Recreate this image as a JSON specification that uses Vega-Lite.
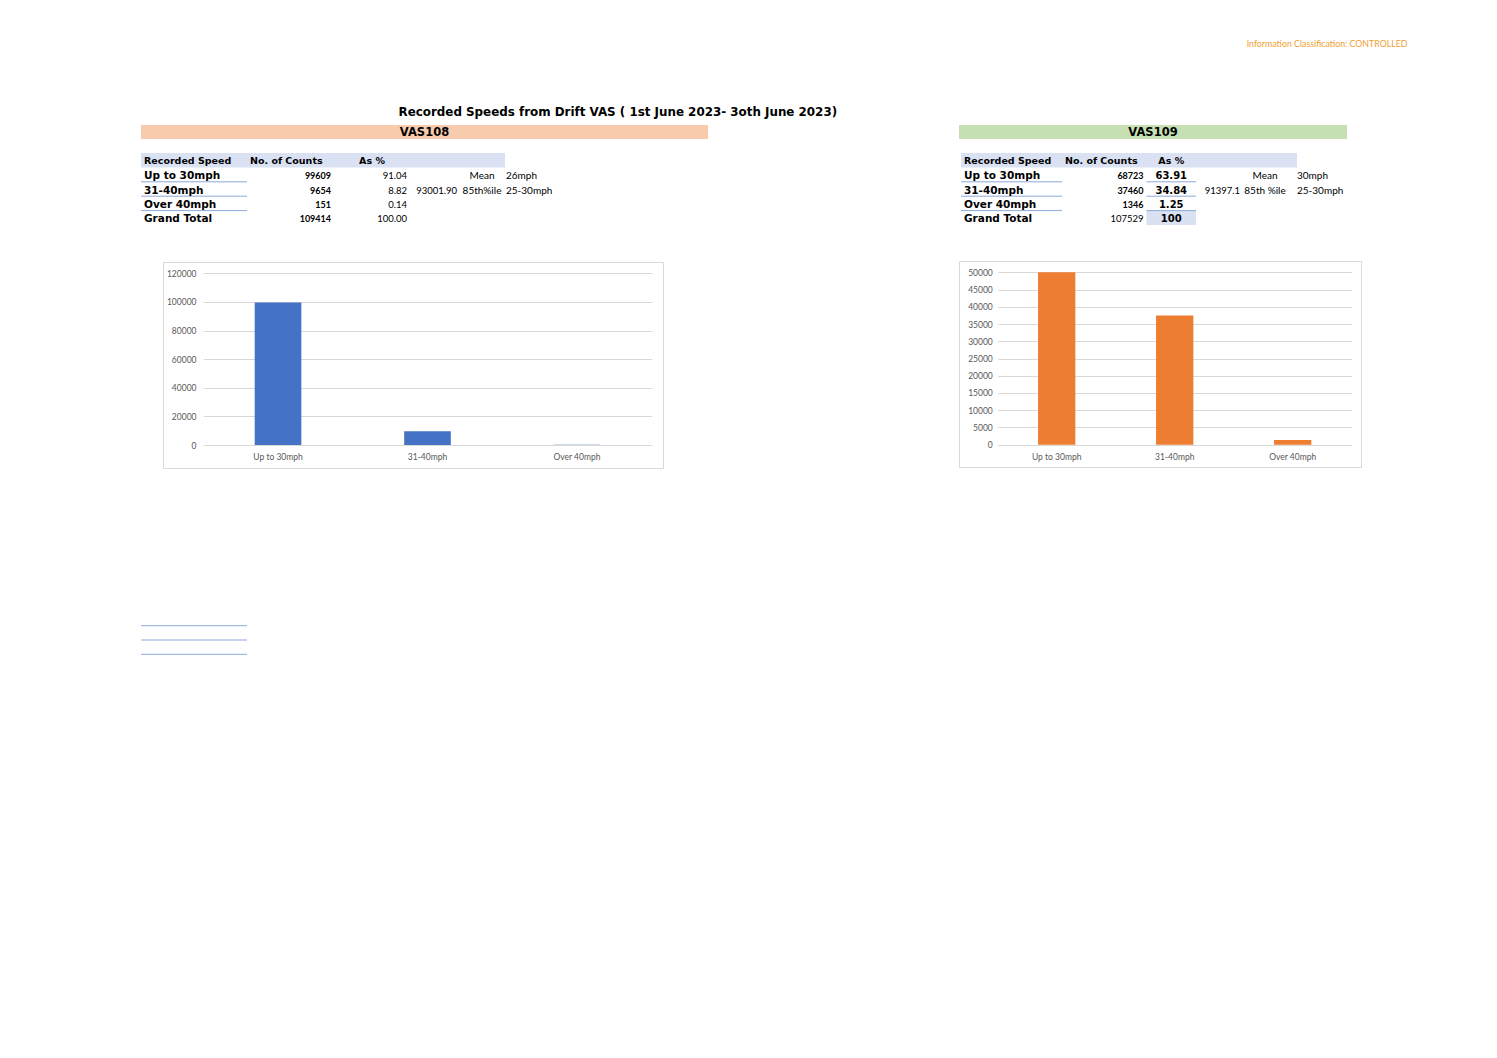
{
  "$schema": "https://vega.github.io/schema/vega-lite/v6.json",
  "background": "white",
  "padding": {"left": 140, "top": 40, "right": 10, "bottom": 10},
  "title": {"text": "Information Classification: CONTROLLED", "anchor": "end", "frame": "bounds", "dx": 46, "offset": 57, "font": "Lato", "fontSize": 8.8, "fontWeight": "normal", "color": "#F0A030"},
  "config": {"view": {"stroke": null}, "text": {"font": "Lato", "color": "black"}, "axis": {"labelFont": "Lato"}},
  "datasets": {
    "h108": [{"speed": "Recorded Speed", "counts": "No. of Counts", "pct": "As %"}],
    "t108": [
      {"speed": "Up to 30mph", "counts": 99609, "pct": 91.04, "stat": "Mean", "statv": "26mph"},
      {"speed": "31-40mph", "counts": 9654, "pct": 8.82, "v": 93001.9, "stat": "85th%ile", "statv": "25-30mph"},
      {"speed": "Over 40mph", "counts": 151, "pct": 0.14},
      {"speed": "Grand Total", "counts": 109414, "pct": 100}
    ],
    "h109": [{"speed": "Recorded Speed", "counts": "No. of Counts", "pct": "As %"}],
    "t109": [
      {"speed": "Up to 30mph", "counts": 68723, "pct": 63.91, "stat": "Mean", "statv": "30mph"},
      {"speed": "31-40mph", "counts": 37460, "pct": 34.84, "v": 91397.1, "stat": "85th %ile", "statv": "25-30mph"},
      {"speed": "Over 40mph", "counts": 1346, "pct": 1.25},
      {"speed": "Grand Total", "counts": 107529, "pct": 100}
    ],
    "blank": [{"row": 44}, {"row": 45}, {"row": 46}]
  },
  "vconcat": [
    {
      "title": {"text": "Recorded Speeds from Drift VAS ( 1st June 2023- 3oth June 2023)", "anchor": "start", "frame": "bounds", "dx": 258, "offset": 6, "font": "DejaVu Sans", "fontSize": 11.9, "fontWeight": "bold", "color": "black"},
      "spacing": 250,
      "hconcat": [
        {
          "spacing": 14,
          "vconcat": [
            {
              "width": 567,
              "height": 14,
              "view": {"fill": "#F8CBAD", "stroke": null},
              "data": {"values": [{"site": "VAS108"}]},
              "mark": {"type": "text", "font": "DejaVu Sans", "fontWeight": "bold", "fontSize": 11.5, "baseline": "middle", "dy": 1, "color": "black"},
              "encoding": {"text": {"field": "site"}}
            },
            {
              "width": 567,
              "height": 94,
              "encoding": {
                "y": {"field": "speed", "type": "nominal", "sort": null, "scale": {"domain": ["Recorded Speed", "Up to 30mph", "31-40mph", "Over 40mph", "Grand Total"], "range": [0, 72], "paddingInner": 0, "paddingOuter": 0}, "axis": null}
              },
              "layer": [
                {
                  "data": {"name": "h108"},
                  "mark": {"type": "rect", "color": "#D9E1F2"},
                  "encoding": {
                    "x": {"datum": 0, "type": "quantitative", "scale": {"domain": [0, 1, 2, 3, 4, 5, 6], "range": [0, 106, 190, 266, 316, 341, 364], "zero": false, "nice": false}, "axis": null},
                    "x2": {"datum": 6}
                  }
                },
                {
                  "data": {"name": "t108"},
                  "transform": [{"filter": "datum.speed != 'Grand Total'"}],
                  "mark": {"type": "rule", "color": "#8EA9DB", "strokeWidth": 1},
                  "encoding": {
                    "x": {"datum": 0, "type": "quantitative", "scale": {"domain": [0, 1, 2, 3, 4, 5, 6], "range": [0, 106, 190, 266, 316, 341, 364], "zero": false, "nice": false}, "axis": null},
                    "x2": {"datum": 1},
                    "y": {"field": "speed", "type": "nominal", "sort": null, "bandPosition": 1, "scale": {"domain": ["Recorded Speed", "Up to 30mph", "31-40mph", "Over 40mph", "Grand Total"], "range": [0, 72], "paddingInner": 0, "paddingOuter": 0}, "axis": null}
                  }
                },
                {
                  "data": {"name": "h108"},
                  "mark": {"type": "text", "align": "left", "dx": 3, "dy": 1, "baseline": "middle", "font": "DejaVu Sans", "fontWeight": "bold", "fontSize": 9.5},
                  "encoding": {
                    "x": {"datum": 0, "type": "quantitative", "scale": {"domain": [0, 1, 2, 3, 4, 5, 6], "range": [0, 106, 190, 266, 316, 341, 364], "zero": false, "nice": false}, "axis": null},
                    "text": {"field": "speed"}
                  }
                },
                {
                  "data": {"name": "h108"},
                  "mark": {"type": "text", "align": "left", "dx": 3, "dy": 1, "baseline": "middle", "font": "DejaVu Sans", "fontWeight": "bold", "fontSize": 9.5},
                  "encoding": {
                    "x": {"datum": 1, "type": "quantitative", "scale": {"domain": [0, 1, 2, 3, 4, 5, 6], "range": [0, 106, 190, 266, 316, 341, 364], "zero": false, "nice": false}, "axis": null},
                    "text": {"field": "counts"}
                  }
                },
                {
                  "data": {"name": "h108"},
                  "mark": {"type": "text", "align": "center", "dx": 3, "dy": 1, "baseline": "middle", "font": "DejaVu Sans", "fontWeight": "bold", "fontSize": 9.5},
                  "encoding": {
                    "x": {"datum": 2.5, "type": "quantitative", "scale": {"domain": [0, 1, 2, 3, 4, 5, 6], "range": [0, 106, 190, 266, 316, 341, 364], "zero": false, "nice": false}, "axis": null},
                    "text": {"field": "pct"}
                  }
                },
                {
                  "data": {"name": "t108"},
                  "mark": {"type": "text", "align": "left", "dx": 3, "dy": 1.5, "baseline": "middle", "font": "DejaVu Sans", "fontWeight": "bold", "fontSize": 10.5},
                  "encoding": {
                    "x": {"datum": 0, "type": "quantitative", "scale": {"domain": [0, 1, 2, 3, 4, 5, 6], "range": [0, 106, 190, 266, 316, 341, 364], "zero": false, "nice": false}, "axis": null},
                    "text": {"field": "speed"}
                  }
                },
                {
                  "data": {"name": "t108"},
                  "mark": {"type": "text", "align": "right", "dy": 1.5, "baseline": "middle", "font": "Lato", "fontWeight": "bold", "fontSize": 9},
                  "encoding": {
                    "x": {"datum": 2, "type": "quantitative", "scale": {"domain": [0, 1, 2, 3, 4, 5, 6], "range": [0, 106, 190, 266, 316, 341, 364], "zero": false, "nice": false}, "axis": null},
                    "text": {"field": "counts", "type": "quantitative", "format": "d"}
                  }
                },
                {
                  "data": {"name": "t108"},
                  "mark": {"type": "text", "align": "right", "dy": 1.5, "baseline": "middle", "font": "Lato", "fontSize": 9.5},
                  "encoding": {
                    "x": {"datum": 3, "type": "quantitative", "scale": {"domain": [0, 1, 2, 3, 4, 5, 6], "range": [0, 106, 190, 266, 316, 341, 364], "zero": false, "nice": false}, "axis": null},
                    "text": {"field": "pct", "type": "quantitative", "format": ".2f"}
                  }
                },
                {
                  "data": {"name": "t108"},
                  "transform": [{"filter": "isValid(datum.v)"}],
                  "mark": {"type": "text", "align": "right", "dy": 1.5, "baseline": "middle", "font": "Lato", "fontSize": 9.5},
                  "encoding": {
                    "x": {"datum": 4, "type": "quantitative", "scale": {"domain": [0, 1, 2, 3, 4, 5, 6], "range": [0, 106, 190, 266, 316, 341, 364], "zero": false, "nice": false}, "axis": null},
                    "text": {"field": "v", "type": "quantitative", "format": ".2f"}
                  }
                },
                {
                  "data": {"name": "t108"},
                  "transform": [{"filter": "isValid(datum.stat)"}],
                  "mark": {"type": "text", "align": "center", "dy": 1.5, "baseline": "middle", "font": "Lato", "fontSize": 10},
                  "encoding": {
                    "x": {"datum": 5, "type": "quantitative", "scale": {"domain": [0, 1, 2, 3, 4, 5, 6], "range": [0, 106, 190, 266, 316, 341, 364], "zero": false, "nice": false}, "axis": null},
                    "text": {"field": "stat"}
                  }
                },
                {
                  "data": {"name": "t108"},
                  "transform": [{"filter": "isValid(datum.statv)"}],
                  "mark": {"type": "text", "align": "left", "dx": 1, "dy": 1.5, "baseline": "middle", "font": "Lato", "fontSize": 10},
                  "encoding": {
                    "x": {"datum": 6, "type": "quantitative", "scale": {"domain": [0, 1, 2, 3, 4, 5, 6], "range": [0, 106, 190, 266, 316, 341, 364], "zero": false, "nice": false}, "axis": null},
                    "text": {"field": "statv"}
                  }
                }
              ]
            },
            {
              "spacing": 20,
              "hconcat": [
                {"width": 1, "height": 1, "data": {"values": []}, "mark": "point"},
                {
                  "width": 500,
                  "height": 206,
                  "view": {"stroke": "#D9D9D9", "fill": "white"},
                  "data": {"name": "t108"},
                  "transform": [{"filter": "datum.speed != 'Grand Total'"}],
                  "mark": {"type": "bar", "color": "#4472C4", "width": {"band": 0.312}},
                  "encoding": {
                    "x": {"field": "speed", "type": "nominal", "sort": null, "scale": {"range": [40.3, 488.7], "paddingInner": 0, "paddingOuter": 0}, "axis": {"title": null, "offset": -23, "domain": false, "ticks": false, "tickSize": 0, "labelPadding": 7.5, "labelAngle": 0, "labelFontSize": 8.5, "labelColor": "#595959", "grid": false}},
                    "y": {"field": "counts", "type": "quantitative", "scale": {"domain": [0, 120000], "range": [183, 11.3], "nice": false}, "axis": {"title": null, "values": [0, 20000, 40000, 60000, 80000, 100000, 120000], "format": "d", "offset": -40.3, "domain": false, "ticks": false, "tickSize": 0, "labelPadding": 7.3, "grid": true, "gridColor": "#D9D9D9", "labelFontSize": 8.5, "labelColor": "#595959"}}
                  }
                }
              ]
            },
            {
              "width": 106,
              "height": 173,
              "data": {"name": "blank"},
              "mark": {"type": "rule", "color": "#8EA9DB", "strokeWidth": 1},
              "encoding": {
                "y": {"field": "row", "type": "ordinal", "bandPosition": 1, "scale": {"range": [128.4, 171.3], "paddingInner": 0, "paddingOuter": 0}, "axis": null}
              }
            }
          ]
        },
        {
          "spacing": 14,
          "vconcat": [
            {
              "width": 388,
              "height": 14,
              "view": {"fill": "#C6E0B4", "stroke": null},
              "data": {"values": [{"site": "VAS109"}]},
              "mark": {"type": "text", "font": "DejaVu Sans", "fontWeight": "bold", "fontSize": 11.5, "baseline": "middle", "dy": 1, "color": "black"},
              "encoding": {"text": {"field": "site"}}
            },
            {
              "width": 388,
              "height": 93,
              "encoding": {
                "y": {"field": "speed", "type": "nominal", "sort": null, "scale": {"domain": ["Recorded Speed", "Up to 30mph", "31-40mph", "Over 40mph", "Grand Total"], "range": [0, 72], "paddingInner": 0, "paddingOuter": 0}, "axis": null}
              },
              "layer": [
                {
                  "data": {"name": "h109"},
                  "mark": {"type": "rect", "color": "#D9E1F2"},
                  "encoding": {
                    "x": {"datum": 0, "type": "quantitative", "scale": {"domain": [0, 1, 2, 3, 4, 5, 6, 7], "range": [2, 103, 184.5, 187.5, 237, 281, 306, 338], "zero": false, "nice": false}, "axis": null},
                    "x2": {"datum": 7}
                  }
                },
                {
                  "data": {"name": "t109"},
                  "transform": [{"filter": "datum.speed == 'Grand Total'"}],
                  "mark": {"type": "rect", "color": "#D9E1F2"},
                  "encoding": {
                    "x": {"datum": 3, "type": "quantitative", "scale": {"domain": [0, 1, 2, 3, 4, 5, 6, 7], "range": [2, 103, 184.5, 187.5, 237, 281, 306, 338], "zero": false, "nice": false}, "axis": null},
                    "x2": {"datum": 4}
                  }
                },
                {
                  "data": {"name": "t109"},
                  "transform": [{"filter": "datum.speed != 'Grand Total'"}],
                  "mark": {"type": "rule", "color": "#8EA9DB", "strokeWidth": 1},
                  "encoding": {
                    "x": {"datum": 0, "type": "quantitative", "scale": {"domain": [0, 1, 2, 3, 4, 5, 6, 7], "range": [2, 103, 184.5, 187.5, 237, 281, 306, 338], "zero": false, "nice": false}, "axis": null},
                    "x2": {"datum": 1},
                    "y": {"field": "speed", "type": "nominal", "sort": null, "bandPosition": 1, "scale": {"domain": ["Recorded Speed", "Up to 30mph", "31-40mph", "Over 40mph", "Grand Total"], "range": [0, 72], "paddingInner": 0, "paddingOuter": 0}, "axis": null}
                  }
                },
                {
                  "data": {"name": "t109"},
                  "transform": [{"filter": "datum.speed != 'Grand Total'"}],
                  "mark": {"type": "rule", "color": "#8EA9DB", "strokeWidth": 1},
                  "encoding": {
                    "x": {"datum": 3, "type": "quantitative", "scale": {"domain": [0, 1, 2, 3, 4, 5, 6, 7], "range": [2, 103, 184.5, 187.5, 237, 281, 306, 338], "zero": false, "nice": false}, "axis": null},
                    "x2": {"datum": 4},
                    "y": {"field": "speed", "type": "nominal", "sort": null, "bandPosition": 1, "scale": {"domain": ["Recorded Speed", "Up to 30mph", "31-40mph", "Over 40mph", "Grand Total"], "range": [0, 72], "paddingInner": 0, "paddingOuter": 0}, "axis": null}
                  }
                },
                {
                  "data": {"name": "h109"},
                  "mark": {"type": "text", "align": "left", "dx": 3, "dy": 1, "baseline": "middle", "font": "DejaVu Sans", "fontWeight": "bold", "fontSize": 9.5},
                  "encoding": {
                    "x": {"datum": 0, "type": "quantitative", "scale": {"domain": [0, 1, 2, 3, 4, 5, 6, 7], "range": [2, 103, 184.5, 187.5, 237, 281, 306, 338], "zero": false, "nice": false}, "axis": null},
                    "text": {"field": "speed"}
                  }
                },
                {
                  "data": {"name": "h109"},
                  "mark": {"type": "text", "align": "left", "dx": 3, "dy": 1, "baseline": "middle", "font": "DejaVu Sans", "fontWeight": "bold", "fontSize": 9.5},
                  "encoding": {
                    "x": {"datum": 1, "type": "quantitative", "scale": {"domain": [0, 1, 2, 3, 4, 5, 6, 7], "range": [2, 103, 184.5, 187.5, 237, 281, 306, 338], "zero": false, "nice": false}, "axis": null},
                    "text": {"field": "counts"}
                  }
                },
                {
                  "data": {"name": "h109"},
                  "mark": {"type": "text", "align": "center", "dy": 1, "baseline": "middle", "font": "DejaVu Sans", "fontWeight": "bold", "fontSize": 9.5},
                  "encoding": {
                    "x": {"datum": 3.5, "type": "quantitative", "scale": {"domain": [0, 1, 2, 3, 4, 5, 6, 7], "range": [2, 103, 184.5, 187.5, 237, 281, 306, 338], "zero": false, "nice": false}, "axis": null},
                    "text": {"field": "pct"}
                  }
                },
                {
                  "data": {"name": "t109"},
                  "mark": {"type": "text", "align": "left", "dx": 3, "dy": 1.5, "baseline": "middle", "font": "DejaVu Sans", "fontWeight": "bold", "fontSize": 10.5},
                  "encoding": {
                    "x": {"datum": 0, "type": "quantitative", "scale": {"domain": [0, 1, 2, 3, 4, 5, 6, 7], "range": [2, 103, 184.5, 187.5, 237, 281, 306, 338], "zero": false, "nice": false}, "axis": null},
                    "text": {"field": "speed"}
                  }
                },
                {
                  "data": {"name": "t109"},
                  "transform": [{"filter": "datum.speed != 'Grand Total'"}],
                  "mark": {"type": "text", "align": "right", "dy": 1.5, "baseline": "middle", "font": "Lato", "fontWeight": "bold", "fontSize": 9},
                  "encoding": {
                    "x": {"datum": 2, "type": "quantitative", "scale": {"domain": [0, 1, 2, 3, 4, 5, 6, 7], "range": [2, 103, 184.5, 187.5, 237, 281, 306, 338], "zero": false, "nice": false}, "axis": null},
                    "text": {"field": "counts", "type": "quantitative", "format": "d"}
                  }
                },
                {
                  "data": {"name": "t109"},
                  "transform": [{"filter": "datum.speed == 'Grand Total'"}],
                  "mark": {"type": "text", "align": "right", "dy": 1.5, "baseline": "middle", "font": "Lato", "fontSize": 9.5},
                  "encoding": {
                    "x": {"datum": 2, "type": "quantitative", "scale": {"domain": [0, 1, 2, 3, 4, 5, 6, 7], "range": [2, 103, 184.5, 187.5, 237, 281, 306, 338], "zero": false, "nice": false}, "axis": null},
                    "text": {"field": "counts", "type": "quantitative", "format": "d"}
                  }
                },
                {
                  "data": {"name": "t109"},
                  "mark": {"type": "text", "align": "center", "dy": 1.5, "baseline": "middle", "font": "DejaVu Sans", "fontWeight": "bold", "fontSize": 10},
                  "encoding": {
                    "x": {"datum": 3.5, "type": "quantitative", "scale": {"domain": [0, 1, 2, 3, 4, 5, 6, 7], "range": [2, 103, 184.5, 187.5, 237, 281, 306, 338], "zero": false, "nice": false}, "axis": null},
                    "text": {"field": "pct", "type": "nominal"}
                  }
                },
                {
                  "data": {"name": "t109"},
                  "transform": [{"filter": "isValid(datum.v)"}],
                  "mark": {"type": "text", "align": "right", "dy": 1.5, "baseline": "middle", "font": "Lato", "fontSize": 9.5},
                  "encoding": {
                    "x": {"datum": 5, "type": "quantitative", "scale": {"domain": [0, 1, 2, 3, 4, 5, 6, 7], "range": [2, 103, 184.5, 187.5, 237, 281, 306, 338], "zero": false, "nice": false}, "axis": null},
                    "text": {"field": "v", "type": "nominal"}
                  }
                },
                {
                  "data": {"name": "t109"},
                  "transform": [{"filter": "isValid(datum.stat)"}],
                  "mark": {"type": "text", "align": "center", "dy": 1.5, "baseline": "middle", "font": "Lato", "fontSize": 10},
                  "encoding": {
                    "x": {"datum": 6, "type": "quantitative", "scale": {"domain": [0, 1, 2, 3, 4, 5, 6, 7], "range": [2, 103, 184.5, 187.5, 237, 281, 306, 338], "zero": false, "nice": false}, "axis": null},
                    "text": {"field": "stat"}
                  }
                },
                {
                  "data": {"name": "t109"},
                  "transform": [{"filter": "isValid(datum.statv)"}],
                  "mark": {"type": "text", "align": "left", "dx": 0, "dy": 1.5, "baseline": "middle", "font": "Lato", "fontSize": 10},
                  "encoding": {
                    "x": {"datum": 7, "type": "quantitative", "scale": {"domain": [0, 1, 2, 3, 4, 5, 6, 7], "range": [2, 103, 184.5, 187.5, 237, 281, 306, 338], "zero": false, "nice": false}, "axis": null},
                    "text": {"field": "statv"}
                  }
                }
              ]
            },
            {
              "width": 402,
              "height": 206,
              "view": {"stroke": "#D9D9D9", "fill": "white"},
              "data": {"name": "t109"},
              "transform": [{"filter": "datum.speed != 'Grand Total'"}],
              "mark": {"type": "bar", "color": "#ED7D31", "width": {"band": 0.316}},
              "encoding": {
                "x": {"field": "speed", "type": "nominal", "sort": null, "scale": {"range": [38.7, 392.7], "paddingInner": 0, "paddingOuter": 0}, "axis": {"title": null, "offset": -22.3, "domain": false, "ticks": false, "tickSize": 0, "labelPadding": 7.5, "labelAngle": 0, "labelFontSize": 8.5, "labelColor": "#595959", "grid": false}},
                "y": {"field": "counts", "type": "quantitative", "scale": {"domain": [0, 50000], "range": [183.7, 11.3], "nice": false, "clamp": true}, "axis": {"title": null, "values": [0, 5000, 10000, 15000, 20000, 25000, 30000, 35000, 40000, 45000, 50000], "format": "d", "offset": -38.7, "domain": false, "ticks": false, "tickSize": 0, "labelPadding": 5.4, "grid": true, "gridColor": "#D9D9D9", "labelFontSize": 8.5, "labelColor": "#595959"}}
              }
            }
          ]
        }
      ]
    }
  ]
}
